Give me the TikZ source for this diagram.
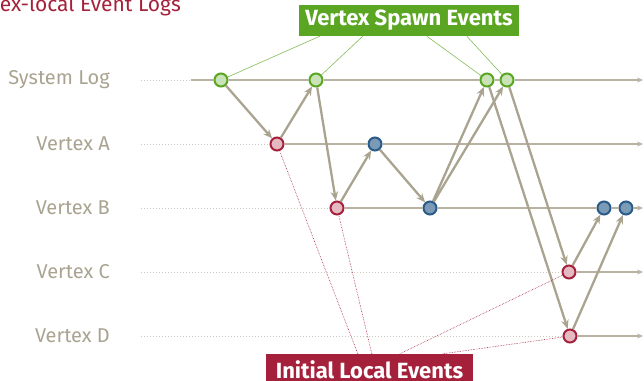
\documentclass[tikz,border=0pt]{standalone}
\usepackage{fontspec}
\setmainfont{Fira Sans}
\usepackage{xcolor}
\usepackage{tikz}
\usetikzlibrary{arrows.meta}
\definecolor{logGrey}{HTML}{A9A390}
\definecolor{lineGrey}{HTML}{B8B2A2}
\definecolor{spawnGreen}{HTML}{5AA622}
\definecolor{spawnFill}{HTML}{C9E3B6}
\definecolor{localRed}{HTML}{A5213B}
\definecolor{localFill}{HTML}{E5B9C1}
\definecolor{vertexBlue}{HTML}{285A8A}
\definecolor{vertexFill}{HTML}{7A9AB6}
\tikzstyle{spawn} = [circle, draw=spawnGreen, fill=spawnFill, line width=2pt, minimum size=13pt, inner sep=0pt]
\tikzstyle{local} = [circle, draw=localRed, fill=localFill, line width=2pt, minimum size=13pt, inner sep=0pt]
\tikzstyle{vertex} = [circle, draw=vertexBlue, fill=vertexFill, line width=2pt, minimum size=13pt, inner sep=0pt]
\tikzstyle{rowlabel} = [anchor=east, inner sep=0pt, text=logGrey, font=\fontsize{20}{24}\selectfont]
\tikzstyle{tag} = [rectangle, text=white, inner sep=0pt, minimum height=31pt, font=\bfseries\fontsize{22}{26}\selectfont]
\tikzstyle{line} = [line width=2.3pt, ->, >= {Stealth[length=9pt, width=7.5pt]}, draw=logGrey]
\tikzstyle{timeline} = [line width=1.3pt, ->, >= {Stealth[length=6pt, width=5pt]}, draw=lineGrey]
\tikzstyle{dline} = [line width=1pt, dotted, draw=lineGrey!70]
\tikzstyle{spawnlink} = [line width=0.6pt, draw=spawnGreen!75]
\tikzstyle{locallink} = [line width=0.6pt, densely dotted, draw=localRed]

\begin{document}
\begin{tikzpicture}[x=1pt, y=-1pt]
        \useasboundingbox (0,0) rectangle (644,380);
        \node(title) [anchor=base east, inner sep=0pt, text=localRed, font=\fontsize{21}{25}\selectfont] at (181,12) {Vertex-local Event Logs};
        % row labels
        \node(labS) [rowlabel] at (110,80) {System Log};
        \node(labA) [rowlabel] at (110,144) {Vertex A};
        \node(labB) [rowlabel] at (110,208) {Vertex B};
        \node(labC) [rowlabel] at (110,272) {Vertex C};
        \node(labD) [rowlabel] at (110,336) {Vertex D};
        % events
        \node(s1) [spawn] at (221,80) {};
        \node(s2) [spawn, right of = s1, node distance = 95pt] {};
        \node(s3) [spawn, right of = s2, node distance = 171pt] {};
        \node(s4) [spawn, right of = s3, node distance = 20pt] {};
        \node(a1) [local] at (277,144) {};
        \node(a2) [vertex, right of = a1, node distance = 98pt] {};
        \node(b1) [local] at (337,208) {};
        \node(b2) [vertex, right of = b1, node distance = 93pt] {};
        \node(b3) [vertex, right of = b2, node distance = 174pt] {};
        \node(b4) [vertex, right of = b3, node distance = 22pt] {};
        \node(c1) [local] at (569,272) {};
        \node(d1) [local] at (570,336) {};
        \coordinate(dotS) at (141,80);
        \coordinate(solS) at (191,80);
        \coordinate(dotA) at (141,144);
        \coordinate(dotB) at (141,208);
        \coordinate(dotC) at (141,272);
        \coordinate(dotD) at (141,336);
        \coordinate(endS) at (643,80);
        \coordinate(endA) at (643,144);
        \coordinate(endB) at (643,208);
        \coordinate(endC) at (643,272);
        \coordinate(endD) at (643,336);
        % logs
        \draw[dline] (dotS) -- (solS);
        \draw[timeline] (solS) -- (s1) -- (s2) -- (s3) -- (s4) -- (endS);
        \draw[dline] (dotA) -- (a1);
        \draw[timeline] (a1) -- (a2) -- (endA);
        \draw[dline] (dotB) -- (b1);
        \draw[timeline] (b1) -- (b2) -- (b3) -- (b4) -- (endB);
        \draw[dline] (dotC) -- (c1);
        \draw[timeline] (c1) -- (endC);
        \draw[dline] (dotD) -- (d1);
        \draw[timeline] (d1) -- (endD);
        % messages
        \draw[line] (s1) -- (a1);
        \draw[line] (a1) -- (s2);
        \draw[line] (s2) -- (b1);
        \draw[line] (b1) -- (a2);
        \draw[line] (a2) -- (b2);
        \draw[line] (b2) -- (s3);
        \draw[line] (b2) -- (s4);
        \draw[line] (s4) -- (c1);
        \draw[line] (s3) -- (d1);
        \draw[line] (c1) -- (b3);
        \draw[line] (d1) -- (b4);
        % callouts
        \node(spawnTag) [tag, fill=spawnGreen, minimum width=220pt] at (409,20.5) {Vertex Spawn Events};
        \node(localTag) [tag, fill=localRed, minimum width=207pt] at (369.5,369.5) {Initial Local Events};
        \draw[spawnlink] ([xshift=21pt]spawnTag.south west) -- (s1);
        \draw[spawnlink] ([xshift=64pt]spawnTag.south west) -- (s2);
        \draw[spawnlink] ([xshift=128pt]spawnTag.south west) -- (s3);
        \draw[spawnlink] ([xshift=168pt]spawnTag.south west) -- (s4);
        \draw[locallink] ([xshift=92pt]localTag.north west) -- (a1);
        \draw[locallink] ([xshift=106pt]localTag.north west) -- (b1);
        \draw[locallink] ([xshift=134pt]localTag.north west) -- (c1);
        \draw[locallink] ([xshift=177pt]localTag.north west) -- (d1);
\end{tikzpicture}
\end{document}
